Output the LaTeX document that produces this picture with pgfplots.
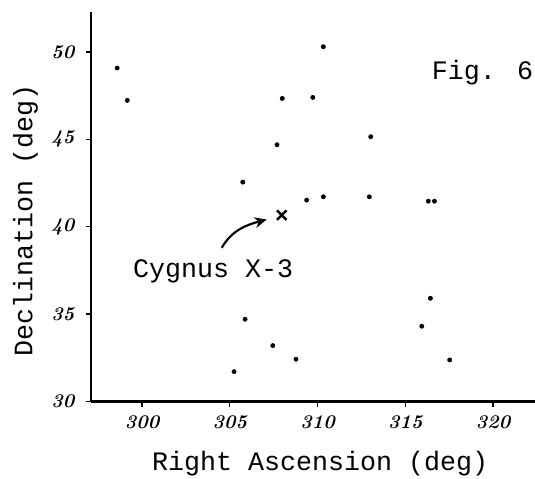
\documentclass[border=0pt]{standalone}
\usepackage{fontspec}
\usepackage{pgfplots}
\pgfplotsset{compat=1.18}
\usetikzlibrary{arrows.meta}
\newfontfamily\tw{Liberation Mono}
\begin{document}
\begin{tikzpicture}
\begin{axis}[
  name=ax,
  scale only axis,
  width=333pt, height=292pt,
  xmin=297.09, xmax=322.39,
  ymin=30, ymax=52.29,
  axis lines*=left,
  axis line style={line width=1.8pt},
  xtick={300,305,310,315,320},
  ytick={30,35,40,45,50},
  tick align=outside,
  major tick length=4pt,
  tick style={line width=1pt, black},
  /pgf/number format/assume math mode=true,
  ticklabel style={font=\bfseries\itshape\fontsize{14.5}{14.5}\selectfont},
  xticklabel style={yshift=-3pt},
  yticklabel style={xshift=-5pt},
  clip=false,
]
\addplot[only marks, mark=*, mark size=1.6pt, black] coordinates {
(298.58,49.08) (299.16,47.23) (307.99,47.34) (307.69,44.69) (305.74,42.55)
(310.33,50.30) (309.73,47.40) (313.03,45.15) (309.38,41.52) (310.33,41.71)
(312.95,41.71) (316.31,41.46) (316.66,41.46) (305.87,34.70) (307.45,33.19)
(308.77,32.41) (305.24,31.70) (316.43,35.90) (315.94,34.30) (317.53,32.37)
};
\addplot[only marks, mark=x, mark size=5pt, line width=1.8pt, black] coordinates {(307.96,40.66)};
\node[anchor=base, font=\tw\fontsize{20}{20}\selectfont] at (axis cs:304.05,37.1) {Cygnus X-3};
\node[anchor=base, font=\tw\fontsize{20}{20}\selectfont] at (axis cs:319.40,48.4) {Fig. 6};
\draw[line width=1.6pt, -{Stealth[length=9pt,width=8pt]}] (axis cs:304.54,38.79) to[out=60,in=195] (axis cs:307.1,40.41);
\node[anchor=base, font=\tw\fontsize{20}{20}\selectfont] at ([yshift=-52pt]rel axis cs:0.516,0) {Right Ascension (deg)};
\node[anchor=base, rotate=90, font=\tw\fontsize{20}{20}\selectfont] at ([xshift=-44pt]rel axis cs:0,0.465) {Declination (deg)};
\end{axis}
\pgfresetboundingbox
\path[use as bounding box] ([shift={(-68.25pt,-57.75pt)}]ax.south west) rectangle ([shift={(0pt,9pt)}]ax.north east);
\end{tikzpicture}
\end{document}
